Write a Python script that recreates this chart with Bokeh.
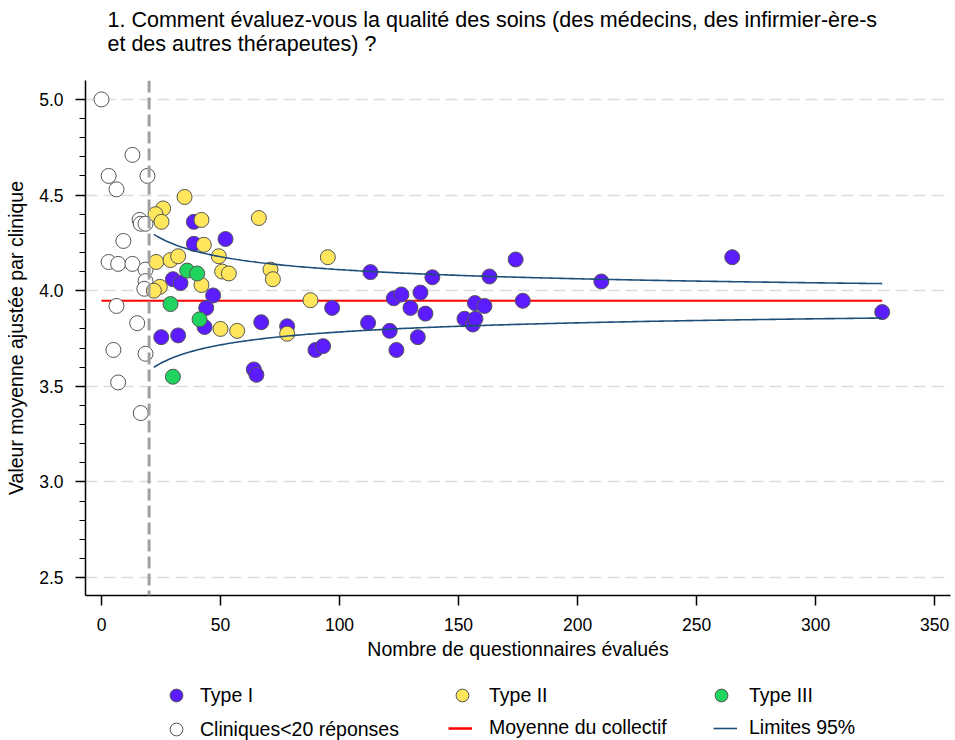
import numpy as np
from bokeh.plotting import figure
from bokeh.layouts import column
from bokeh.models import (Range1d, SingleIntervalTicker, FixedTicker, PrintfTickFormatter,
                          Span, Legend, LegendItem, Title)
from bokeh.embed import file_html
from bokeh.resources import INLINE

# ---------------- data ----------------
title_lines = ["1. Comment évaluez-vous la qualité des soins (des médecins, des infirmier-ère-s",
               "et des autres thérapeutes) ?"]
x_label = "Nombre de questionnaires évalués"
y_label = "Valeur moyenne ajustée par clinique"
x_ticks = [0, 50, 100, 150, 200, 250, 300, 350]

# cliniques < 20 réponses
open_n = [0, 13, 3, 19.3, 6.3, 16, 16.5, 18.5, 9.2, 3, 7, 13, 18.5, 18.5, 18, 6.3, 15, 5, 18.5, 7, 16.5]
open_v = [5.0, 4.71, 4.60, 4.60, 4.53, 4.37, 4.35, 4.35, 4.26, 4.15, 4.14, 4.14, 4.11, 4.05, 4.01,
          3.92, 3.83, 3.69, 3.67, 3.52, 3.36]

type1_n = [38.8, 52.1, 38.8, 30, 33.2, 46.9, 44, 43.3, 25.1, 32.2, 67.1, 78, 96.9, 89.9, 93.1, 64,
           65.1, 113, 139, 163, 174, 122.8, 126, 134, 129.8, 136.1, 112, 121.1, 132.9, 123.9, 156.9,
           160.9, 177, 152.5, 156, 157.1, 210, 265, 328]
type1_v = [4.36, 4.27, 4.245, 4.06, 4.04, 3.975, 3.91, 3.81, 3.757, 3.766, 3.835, 3.814, 3.91, 3.69,
           3.71, 3.588, 3.56, 4.097, 4.07, 4.074, 4.163, 3.96, 3.98, 3.99, 3.91, 3.88, 3.832, 3.79,
           3.757, 3.69, 3.935, 3.92, 3.947, 3.853, 3.823, 3.853, 4.048, 4.175, 3.888]

type2_n = [34.9, 25.9, 22.7, 25.2, 42, 43, 49.3, 23, 29, 32.2, 50.7, 53.5, 24.5, 22, 42, 50, 57,
           66.1, 95.1, 71, 72, 87.8, 78]
type2_v = [4.49, 4.43, 4.40, 4.36, 4.37, 4.24, 4.18, 4.15, 4.16, 4.18, 4.10, 4.09, 4.02, 4.0, 4.03,
           3.80, 3.79, 4.38, 4.175, 4.11, 4.06, 3.95, 3.775]

type3_n = [36, 40.2, 29, 41.2, 30]
type3_v = [4.105, 4.09, 3.93, 3.85, 3.55]

mean_value = 3.947          # moyenne du collectif
threshold_n = 20            # seuil de réponses
limit_n_start = 22          # début des limites
limit_n_end = 328           # fin des limites
limit_k = 1.63              # z * sigma  (limites 95% = moyenne ± k / sqrt(n))

legend_labels = ["Type I", "Type II", "Type III", "Cliniques<20 réponses",
                 "Moyenne du collectif", "Limites 95%"]

# ---------------- styles ----------------
FONT = "Liberation Sans"
C1, C2, C3 = "#5b1cff", "#ffe65c", "#20d45f"
EDGE = "#555555"
RED = "#ff0000"
BLUE = "#1f4e79"
MSIZE = 15

p = figure(width=955, height=664, output_backend="svg", toolbar_location=None,
           x_range=Range1d(-6.72, 356.7), y_range=Range1d(2.406, 5.099),
           min_border_left=85, min_border_right=5, min_border_top=80, min_border_bottom=69,
           title=None)
p.outline_line_color = None
p.background_fill_color = "white"
p.border_fill_color = "white"

t = Title(text="\n".join(title_lines) + "\n", align="left", offset=22, text_font=FONT,
          text_font_size="21.5px", text_font_style="normal", text_color="black",
          text_line_height=1.0, standoff=2)
p.add_layout(t, "above")

# axes
yax = p.yaxis[0]
yax.ticker = SingleIntervalTicker(interval=0.5, num_minor_ticks=5)
yax.formatter = PrintfTickFormatter(format="%.1f")
xax = p.xaxis[0]
xax.ticker = FixedTicker(ticks=x_ticks, minor_ticks=[])
for ax in (xax, yax):
    ax.axis_line_color = "black"
    ax.axis_line_width = 1.5
    ax.major_tick_line_color = "black"
    ax.major_tick_line_width = 1.5
    ax.minor_tick_line_color = "black"
    ax.minor_tick_line_width = 1.2
    ax.major_tick_in = 0
    ax.major_tick_out = 10
    ax.minor_tick_in = 0
    ax.minor_tick_out = 6
    ax.major_label_text_font = FONT
    ax.major_label_text_font_size = "17.5px"
    ax.major_label_text_color = "black"
    ax.axis_label_text_font = FONT
    ax.axis_label_text_font_size = "19.5px"
    ax.axis_label_text_font_style = "normal"
    ax.axis_label_text_color = "black"
yax.major_label_standoff = 12
yax.axis_label = y_label
yax.axis_label_standoff = 9
xax.major_label_standoff = 12
xax.axis_label = x_label
xax.axis_label_standoff = 4

p.xgrid.visible = False
p.ygrid.grid_line_color = "#dcdcdc"
p.ygrid.grid_line_width = 1.5
p.ygrid.grid_line_dash = "12 6"

p.add_layout(Span(location=threshold_n, dimension="height", line_color="#a0a0a0",
                  line_width=3, line_dash="12 5"))

all_n = open_n + type1_n + type2_n + type3_n
mean_x = [0, max(all_n)]
mean_y = [mean_value, mean_value]
p.line(mean_x, mean_y, line_color=RED, line_width=2)

p.scatter(open_n, open_v, size=MSIZE, fill_color="white", line_color=EDGE, line_width=1)
p.scatter(type1_n, type1_v, size=MSIZE, fill_color=C1, line_color=EDGE, line_width=1)
p.scatter(type2_n, type2_v, size=MSIZE, fill_color=C2, line_color=EDGE, line_width=1)
p.scatter(type3_n, type3_v, size=MSIZE, fill_color=C3, line_color=EDGE, line_width=1)

n_curve = np.linspace(limit_n_start, limit_n_end, 300)
half = limit_k / np.sqrt(n_curve)
p.line(n_curve, mean_value + half, line_color=BLUE, line_width=1.6)
p.line(n_curve, mean_value - half, line_color=BLUE, line_width=1.6)

# ---------------- legend strip (same series, out of its view range) ----------------
lg = figure(width=955, height=76, output_backend="svg", toolbar_location=None,
            x_range=Range1d(0, 1), y_range=Range1d(0, 1),
            x_axis_location=None, y_axis_location=None,
            min_border_left=0, min_border_right=0, min_border_top=0, min_border_bottom=0)
lg.outline_line_color = None
lg.xgrid.visible = False
lg.ygrid.visible = False

g1 = lg.scatter(type1_n, type1_v, fill_color=C1, line_color=EDGE, line_width=1)
g2 = lg.scatter(type2_n, type2_v, fill_color=C2, line_color=EDGE, line_width=1)
g3 = lg.scatter(type3_n, type3_v, fill_color=C3, line_color=EDGE, line_width=1)
g0 = lg.scatter(open_n, open_v, fill_color="white", line_color=EDGE, line_width=1)
gm = lg.line(mean_x, mean_y, line_color=RED, line_width=2.5)
gl = lg.line(list(n_curve), list(mean_value + half), line_color=BLUE, line_width=1.6)

def add_leg(label, rend, vx, vy, gw, gh, standoff):
    leg = Legend(items=[LegendItem(label=label, renderers=[rend])], location=(vx, vy),
                 glyph_width=gw, glyph_height=gh, label_height=gh, label_standoff=standoff,
                 padding=0, margin=0, spacing=0, border_line_color=None,
                 background_fill_alpha=0, label_text_font=FONT, label_text_font_size="19.5px",
                 label_text_color="black")
    lg.add_layout(leg, "center")

add_leg(legend_labels[0], g1, 75, 29, 32, 32, 8)
add_leg(legend_labels[1], g2, 361, 29, 32, 32, 11)
add_leg(legend_labels[2], g3, 620, 29, 32, 32, 12)
add_leg(legend_labels[3], g0, 75, -5, 32, 32, 8)
add_leg(legend_labels[4], gm, 363, 1, 24, 20, 17)
add_leg(legend_labels[5], gl, 628, 1, 24, 20, 12)

layout = column(p, lg, spacing=0)
open("out.html", "w").write(file_html(layout, INLINE))
